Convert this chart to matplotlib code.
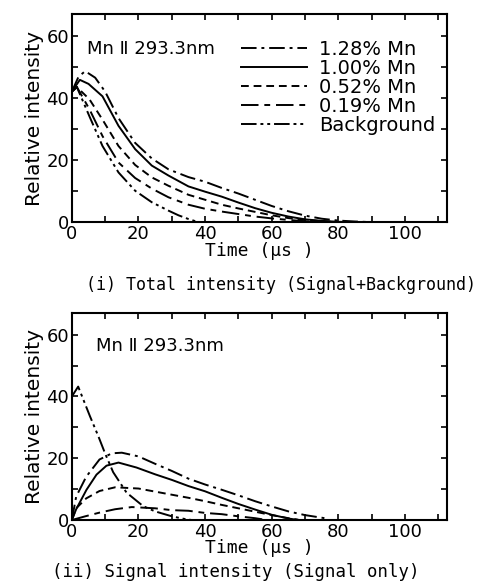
import matplotlib.pyplot as plt
from matplotlib.ticker import MultipleLocator

# ---- data: (i) total intensity ----
t_a128 = [0, 2, 4, 7, 10, 14, 19, 24, 29, 35, 40, 45, 50, 55, 60, 65, 70, 75, 80, 85, 90]
y_a128 = [42, 46.8, 48.6, 46.5, 42, 33.5, 25.5, 20.5, 17, 14.5, 13, 11, 9.2, 7.2, 5.2, 3.5, 2.1, 1.1, 0.5, 0.2, 0]
t_a100 = [0, 2.4, 5, 9.2, 14, 19, 24, 29, 35, 40, 45, 50, 55, 60, 65, 70, 75, 80, 85]
y_a100 = [42, 45.8, 44.5, 40.5, 31, 23.5, 18.2, 15, 11.5, 9.8, 8.2, 6.3, 4.5, 3.0, 1.8, 0.9, 0.4, 0.1, 0]
t_a052 = [0, 1.5, 5.3, 9.2, 14, 19, 24, 29, 35, 40, 45, 50, 55, 60, 65, 70, 75, 80]
y_a052 = [42, 43.5, 39.5, 33, 24.5, 18.4, 14.4, 11.7, 8.8, 7.2, 5.6, 4.4, 3.3, 2.2, 1.3, 0.7, 0.3, 0]
t_a019 = [0, 1.5, 5.3, 9.2, 14, 19, 24, 29, 35, 40, 45, 50, 55, 60, 65, 70, 75]
y_a019 = [42, 43.5, 36.3, 27.7, 19.2, 14.2, 10.8, 8.0, 5.6, 4.3, 3.4, 2.6, 1.8, 1.2, 0.7, 0.3, 0]
t_abg = [0, 1.5, 5.3, 9.2, 14, 19, 24, 29, 32, 35, 38]
y_abg = [42, 43.5, 34, 24.5, 16, 10.1, 6.4, 3.7, 2.2, 1.0, 0]

# ---- data: (ii) signal only ----
t_b128 = [0, 1.3, 4.3, 8.3, 12, 15, 20, 25, 30, 35, 40, 45, 50, 55, 60, 65, 70, 76.5]
y_b128 = [0, 7.6, 14, 19.6, 21.6, 21.8, 20.6, 18.2, 15.9, 13.4, 11.5, 9.8, 8.0, 6.1, 4.4, 2.8, 1.6, 0.5]
t_b100 = [0, 1.3, 4.4, 7.4, 10.4, 14, 19.4, 25, 30, 35, 40, 45, 50, 55, 60, 65, 68]
y_b100 = [0, 3.5, 9.8, 14.7, 17.6, 18.6, 17, 14.8, 13, 11, 9.3, 7.2, 5.2, 3.4, 1.7, 0.5, 0]
t_b052 = [0, 1.3, 4.3, 8.3, 13, 20, 25, 30, 35, 40, 45, 50, 55, 60, 65, 68]
y_b052 = [0, 3.8, 7, 9.4, 10.6, 10.2, 9.2, 8.2, 7.2, 6.1, 4.9, 3.8, 2.7, 1.6, 0.6, 0.1]
t_b019 = [0, 4, 8.3, 13, 18, 25, 30, 35, 40, 45, 50, 55, 58]
y_b019 = [0, 1.2, 2.4, 3.5, 4.2, 3.8, 3.2, 3.0, 2.3, 1.9, 1.2, 0.6, 0.1]
t_bbg = [0, 1.9, 5.4, 8, 10, 12.4, 16.4, 21.4, 25, 29.4, 33, 36]
y_bbg = [40, 43.2, 33.7, 27, 21.5, 15.5, 8.9, 4.5, 2.8, 1.4, 0.5, 0]

labels = ["1.28% Mn", "1.00% Mn", "0.52% Mn", "0.19% Mn", "Background"]
styles = [(0, (8, 2.5, 1.5, 2.5)), "-", (0, (4, 2.5)), (0, (9, 3, 3, 3)), (0, (8, 2, 1.5, 2, 1.5, 2))]

plt.rcParams['font.family'] = 'DejaVu Sans'
fig = plt.figure(figsize=(4.79, 5.83), dpi=100)
ax1 = fig.add_axes([0.150, 0.619, 0.783, 0.357])
ax2 = fig.add_axes([0.150, 0.108, 0.783, 0.355])

top = [(t_a128, y_a128), (t_a100, y_a100), (t_a052, y_a052), (t_a019, y_a019), (t_abg, y_abg)]
bot = [(t_b128, y_b128), (t_b100, y_b100), (t_b052, y_b052), (t_b019, y_b019), (t_bbg, y_bbg)]

for ax, series in [(ax1, top), (ax2, bot)]:
    for (t, y), ls, lab in zip(series, styles, labels):
        ax.plot(t, y, color='black', lw=1.4, linestyle=ls, label=lab)
    ax.set_xlim(0, 112.6)
    ax.set_ylim(0, 67)
    ax.xaxis.set_major_locator(MultipleLocator(20))
    ax.xaxis.set_minor_locator(MultipleLocator(10))
    ax.yaxis.set_major_locator(MultipleLocator(20))
    ax.yaxis.set_minor_locator(MultipleLocator(10))
    ax.tick_params(which='both', direction='in', top=True, right=True, length=4, width=1.2,
                   labelsize=13, pad=2)
    for s in ax.spines.values():
        s.set_linewidth(1.5)
    ax.set_ylabel("Relative intensity", fontsize=14.5, labelpad=2)
    ax.set_xlabel("Time (μs )", fontsize=13, family='DejaVu Sans Mono', labelpad=-1)

ax1.text(0.04, 0.83, "Mn Ⅱ 293.3nm", transform=ax1.transAxes, fontsize=13, va='center')
ax2.text(0.065, 0.84, "Mn Ⅱ 293.3nm", transform=ax2.transAxes, fontsize=13, va='center')

leg = ax1.legend(loc='upper right', bbox_to_anchor=(1.0, 0.93), frameon=False, fontsize=14,
                 handlelength=3.4, labelspacing=0.0, borderaxespad=0.2, handletextpad=0.6)

fig.text(0.587, 0.511, "(i) Total intensity (Signal+Background)", fontsize=12,
         family='DejaVu Sans Mono', ha='center', va='center')
fig.text(0.493, 0.019, "(ii) Signal intensity (Signal only)", fontsize=12.5,
         family='DejaVu Sans Mono', ha='center', va='center')

fig.savefig('out.png', dpi=100)
